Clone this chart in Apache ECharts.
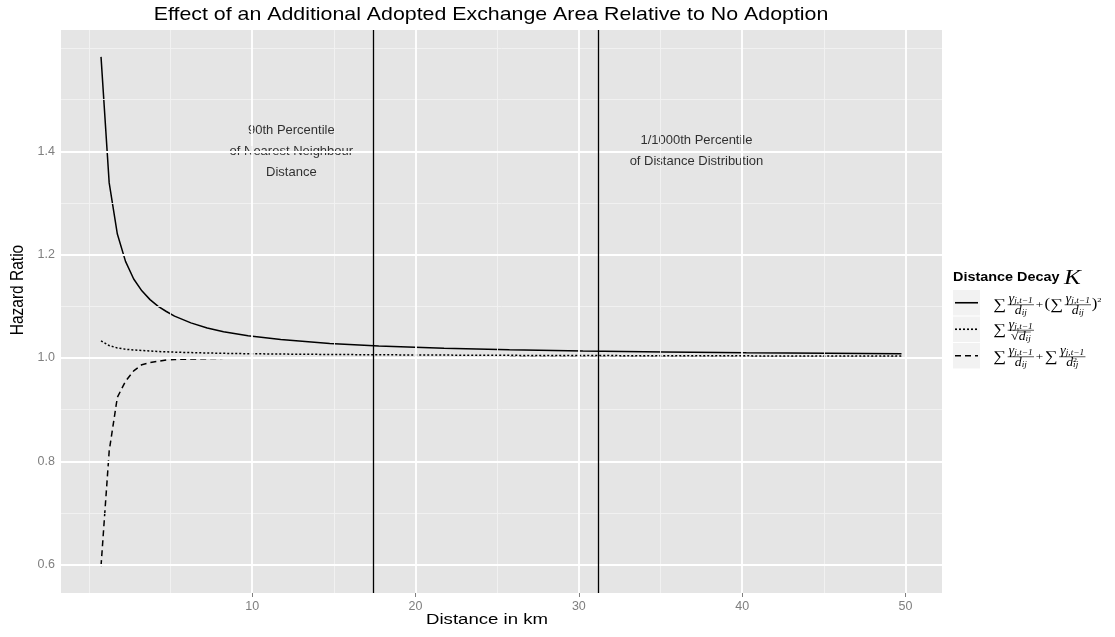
<!DOCTYPE html>
<html>
<head>
<meta charset="utf-8">
<script src="https://cdn.jsdelivr.net/npm/echarts@6/dist/echarts.min.js"></script>
<style>
  html, body { margin: 0; padding: 0; background: #ffffff; }
  #chart { width: 1115px; height: 637px; }
</style>
</head>
<body>
<div id="chart"></div>
<script>
// Distance (km) at which each hazard ratio curve is evaluated
const distanceKm = [0.75, 1.25, 1.75, 2.25, 2.75, 3.25, 3.75, 4.25, 4.75, 5.25, 6.25, 7.25, 8.25,
  9.75, 11.75, 14.75, 17.75, 21.75, 25.75, 30.25, 35.25, 40.25, 45.25, 49.75];

// Hazard ratio: inverse distance plus its square
const hazardInvPlusSquare = [1.583, 1.339, 1.240, 1.187, 1.153, 1.130, 1.113, 1.100, 1.090, 1.081,
  1.068, 1.058, 1.051, 1.043, 1.036, 1.028, 1.023, 1.019, 1.016, 1.0135, 1.0115, 1.010, 1.009, 1.008];

// Hazard ratio: inverse square-root distance
const hazardInvSqrt = [1.033, 1.024, 1.0195, 1.017, 1.0155, 1.0145, 1.0135, 1.0125, 1.012, 1.0113,
  1.0104, 1.0097, 1.009, 1.0083, 1.0076, 1.0068, 1.0062, 1.0056, 1.0051, 1.0047, 1.0044, 1.0041, 1.0039, 1.0037];

// Hazard ratio: inverse distance plus inverse squared distance
const hazardInvPlusInvSq = [0.597, 0.820, 0.924, 0.955, 0.975, 0.987, 0.991, 0.9936, 0.996, 0.997,
  0.998, 0.9988, 0.9993, 0.9997, 1.0, 1.0003, 1.0005, 1.0006, 1.0007, 1.0007, 1.0007, 1.0007, 1.0007, 1.0007];

// Axis ticks and grid
const xTicks = [10, 20, 30, 40, 50];
const xMinorGrid = [0, 5, 15, 25, 35, 45];
const yTicks = [0.6, 0.8, 1.0, 1.2, 1.4];
const yMinorGrid = [0.7, 0.9, 1.1, 1.3, 1.5, 1.6];

// Percentile reference distances (km)
const percentileLines = [17.4, 31.2];
const percentileNotes = [
  { x: 12.4, y: 1.4, text: '90th Percentile\nof Nearest Neighbour\nDistance' },
  { x: 37.2, y: 1.4, text: '1/1000th Percentile\nof Distance Distribution' }
];

const seriesNames = ['invPlusSquare', 'invSqrt', 'invPlusInvSq'];
const seriesDash = ['solid', [2, 2], [6, 4]];

const SANS = '"Liberation Sans", Arial, Helvetica, sans-serif';
const SERIF = '"Liberation Serif", "DejaVu Serif", serif';
const WIDE = 1.2; // horizontal stretch of the page text

// ---- small math typesetter for the legend labels ----
const measureCtx = document.createElement('canvas').getContext('2d');
function fontOf(size, italic) { return (italic ? 'italic ' : '') + size + 'px ' + SERIF; }
function measure(str, size, italic) { measureCtx.font = fontOf(size, italic); return measureCtx.measureText(str).width; }
function txt(str, x, y, size, italic) {
  return { type: 'text', x: x, y: y, silent: true,
    style: { text: str, font: fontOf(size, italic), fill: '#000',
      textAlign: 'left', textVerticalAlign: 'middle', align: 'left', verticalAlign: 'middle' } };
}
const M = 11.5, S = 7.8;
function runWidth(parts) {
  let w = 0;
  parts.forEach(p => { if (!p.keep) w += measure(p.t, p.size, p.it); });
  return w;
}
function run(parts, x, y, out) {
  let adv = 0;
  parts.forEach(p => {
    out.push(txt(p.t, x + adv, y + (p.dy || 0), p.size, p.it));
    if (!p.keep) adv += measure(p.t, p.size, p.it);
  });
  return adv;
}
const gammaNum = [{ t: 'γ', size: M, it: true }, { t: 'j,t−1', size: S, it: true, dy: 2 }];
const dDen = [{ t: 'd', size: M, it: true }, { t: 'ij', size: S, it: true, dy: 2 }];
const dSqDen = [{ t: 'd', size: M, it: true }, { t: '2', size: S - 1, it: false, dy: -3, keep: true }, { t: 'ij', size: S, it: true, dy: 2.5 }];
function hline(x1, x2, y, out, lw) {
  out.push({ type: 'line', silent: true, shape: { x1: x1, y1: y, x2: x2, y2: y }, style: { stroke: '#000', lineWidth: lw || 0.6 } });
}
function frac(num, den, x, y, out) {
  const wn = runWidth(num), wd = runWidth(den);
  const w = Math.max(wn, wd) + 2;
  run(num, x + (w - wn) / 2, y - 5.5, out);
  run(den, x + (w - wd) / 2, y + 6, out);
  hline(x, x + w, y, out);
  return w;
}
function sym(str, size, x, y, out, italic) {
  out.push(txt(str, x, y, size, italic));
  return measure(str, size, italic);
}
function formulaSquare(y, out) {
  let x = 0;
  x += sym('∑', 15, x, y, out) + 1.5;
  x += frac(gammaNum, dDen, x, y, out) + 1.5;
  x += sym('+', 11, x, y, out) + 1;
  x += sym('(', 14, x, y, out);
  x += sym('∑', 15, x, y, out) + 1.5;
  x += frac(gammaNum, dDen, x, y, out) + 0.5;
  x += sym(')', 14, x, y, out);
  sym('2', 7, x, y - 5, out);
}
function formulaSqrt(y, out) {
  let x = 0;
  x += sym('∑', 15, x, y, out) + 1.5;
  const wn = runWidth(gammaNum);
  const wr = measure('√', 12, false);
  const wd = wr + runWidth(dDen);
  const w = Math.max(wn, wd) + 2;
  run(gammaNum, x + (w - wn) / 2, y - 5.5, out);
  const dx = x + (w - wd) / 2;
  sym('√', 12, dx, y + 6.5, out);
  run(dDen, dx + wr, y + 7, out);
  hline(dx + wr - 0.5, dx + wd, y + 1.8, out, 0.5);
  hline(x, x + w, y, out);
}
function formulaInvSq(y, out) {
  let x = 0;
  x += sym('∑', 15, x, y, out) + 1.5;
  x += frac(gammaNum, dDen, x, y, out) + 1.5;
  x += sym('+', 11, x, y, out) + 1;
  x += sym('∑', 15, x, y, out) + 1.5;
  frac(gammaNum, dSqDen, x, y, out);
}

// Legend layout
const legendLeft = 953, legendTop = 290, keyPitch = 26.5, keyW = 27, keyH = 25.5;
const pageGraphics = [];
pageGraphics.push({ type: 'text', x: 953, y: 278, scaleX: WIDE, silent: true,
  style: { text: 'Distance Decay', font: 'bold 12px ' + SANS, fill: '#000', textVerticalAlign: 'middle', verticalAlign: 'middle' } });
pageGraphics.push({ type: 'text', x: 1064, y: 278, scaleX: WIDE, silent: true,
  style: { text: 'K', font: 'italic 21px ' + SERIF, fill: '#000', textVerticalAlign: 'middle', verticalAlign: 'middle' } });
for (let i = 0; i < 3; i++) {
  const top = legendTop + i * keyPitch;
  pageGraphics.push({ type: 'rect', silent: true,
    shape: { x: legendLeft, y: top, width: keyW, height: keyH }, style: { fill: '#f2f2f2' } });
  pageGraphics.push({ type: 'line', silent: true,
    shape: { x1: legendLeft + 2, y1: top + keyH / 2, x2: legendLeft + keyW - 2, y2: top + keyH / 2 },
    style: { stroke: '#000', lineWidth: 1.6, lineDash: seriesDash[i] === 'solid' ? null : seriesDash[i] } });
}
const formulaParts = [];
formulaSquare(legendTop + keyH / 2 + 2, formulaParts);
formulaSqrt(legendTop + keyPitch + keyH / 2 + 1, formulaParts);
formulaInvSq(legendTop + 2 * keyPitch + keyH / 2 + 1, formulaParts);
pageGraphics.push({ type: 'group', x: 993, y: 0, scaleX: WIDE, silent: true, children: formulaParts });

// Axis titles
pageGraphics.push({ type: 'text', x: 487, y: 620, scaleX: WIDE, silent: true,
  style: { text: 'Distance in km', font: '15.5px ' + SANS, fill: '#000', textAlign: 'center', align: 'center', textVerticalAlign: 'middle', verticalAlign: 'middle' } });
pageGraphics.push({ type: 'text', x: 18, y: 290, rotation: Math.PI / 2, scaleY: WIDE, silent: true,
  style: { text: 'Hazard Ratio', font: '15.5px ' + SANS, fill: '#000', textAlign: 'center', align: 'center', textVerticalAlign: 'middle', verticalAlign: 'middle' } });
// Title
pageGraphics.push({ type: 'text', x: 491, y: 15, scaleX: WIDE, silent: true,
  style: { text: 'Effect of an Additional Adopted Exchange Area Relative to No Adoption', font: '17.8px ' + SANS, fill: '#000', textAlign: 'center', align: 'center', textVerticalAlign: 'middle', verticalAlign: 'middle' } });

// ---- chart ----
const pairs = vals => distanceKm.map((d, i) => [d, vals[i]]);

const gridLineData = []
  .concat(xMinorGrid.map(v => ({ xAxis: v, lineStyle: { color: '#f2f2f2', width: 0.9, type: 'solid' } })))
  .concat(yMinorGrid.map(v => ({ yAxis: v, lineStyle: { color: '#f2f2f2', width: 0.9, type: 'solid' } })))
  .concat(xTicks.map(v => ({ xAxis: v, lineStyle: { color: '#ffffff', width: 1.8, type: 'solid' } })))
  .concat(yTicks.map(v => ({ yAxis: v, lineStyle: { color: '#ffffff', width: 1.8, type: 'solid' } })));

const curves = [hazardInvPlusSquare, hazardInvSqrt, hazardInvPlusInvSq];

const chart = echarts.init(document.getElementById('chart'), null, { renderer: 'canvas' });
chart.setOption({
  animation: false,
  backgroundColor: '#ffffff',
  grid: { left: 61, right: 173, top: 30, bottom: 44, show: true, backgroundColor: '#e5e5e5', borderWidth: 0,
    outerBoundsMode: 'none', containLabel: false },
  xAxis: {
    type: 'value', min: -1.7, max: 52.23,
    axisLine: { show: false },
    axisTick: { show: true, length: 4, lineStyle: { color: '#7f7f7f' }, customValues: xTicks },
    axisLabel: { customValues: xTicks, color: '#7f7f7f', fontFamily: SANS, fontSize: 12.5, margin: 7 },
    splitLine: { show: false }
  },
  yAxis: {
    type: 'value', min: 0.545, max: 1.635,
    axisLine: { show: false },
    axisTick: { show: true, length: 4, lineStyle: { color: '#7f7f7f' }, customValues: yTicks },
    axisLabel: { customValues: yTicks, color: '#7f7f7f', fontFamily: SANS, fontSize: 12.5, margin: 6,
      formatter: v => v.toFixed(1) },
    splitLine: { show: false }
  },
  graphic: pageGraphics,
  series: [
    {
      type: 'line', name: 'grid', data: [], z: 1, silent: true,
      markLine: { silent: true, symbol: ['none', 'none'], label: { show: false }, animation: false,
        emphasis: { disabled: true }, data: gridLineData }
    }
  ].concat(curves.map((vals, i) => ({
    type: 'line', name: seriesNames[i], data: pairs(vals), z: 3,
    symbol: 'none', showSymbol: false, color: '#000',
    lineStyle: { color: '#000', width: 1.5, type: seriesDash[i] }
  }))).concat([
    {
      type: 'line', name: 'percentiles', data: [], z: 3, silent: true,
      markLine: { silent: true, symbol: ['none', 'none'], label: { show: false }, animation: false,
        emphasis: { disabled: true },
        lineStyle: { color: '#000', width: 1.3, type: 'solid' },
        data: percentileLines.map(v => ({ xAxis: v })) }
    },
    {
      type: 'scatter', name: 'notes', z: 4, silent: true, symbolSize: 0,
      data: percentileNotes.map(n => ({ value: [n.x, n.y], label: { formatter: n.text } })),
      label: { show: true, position: 'inside', color: '#000', fontFamily: SANS, fontSize: 13,
        lineHeight: 21, align: 'center', verticalAlign: 'middle', textBorderWidth: 0 }
    }
  ])
});
</script>
</body>
</html>
